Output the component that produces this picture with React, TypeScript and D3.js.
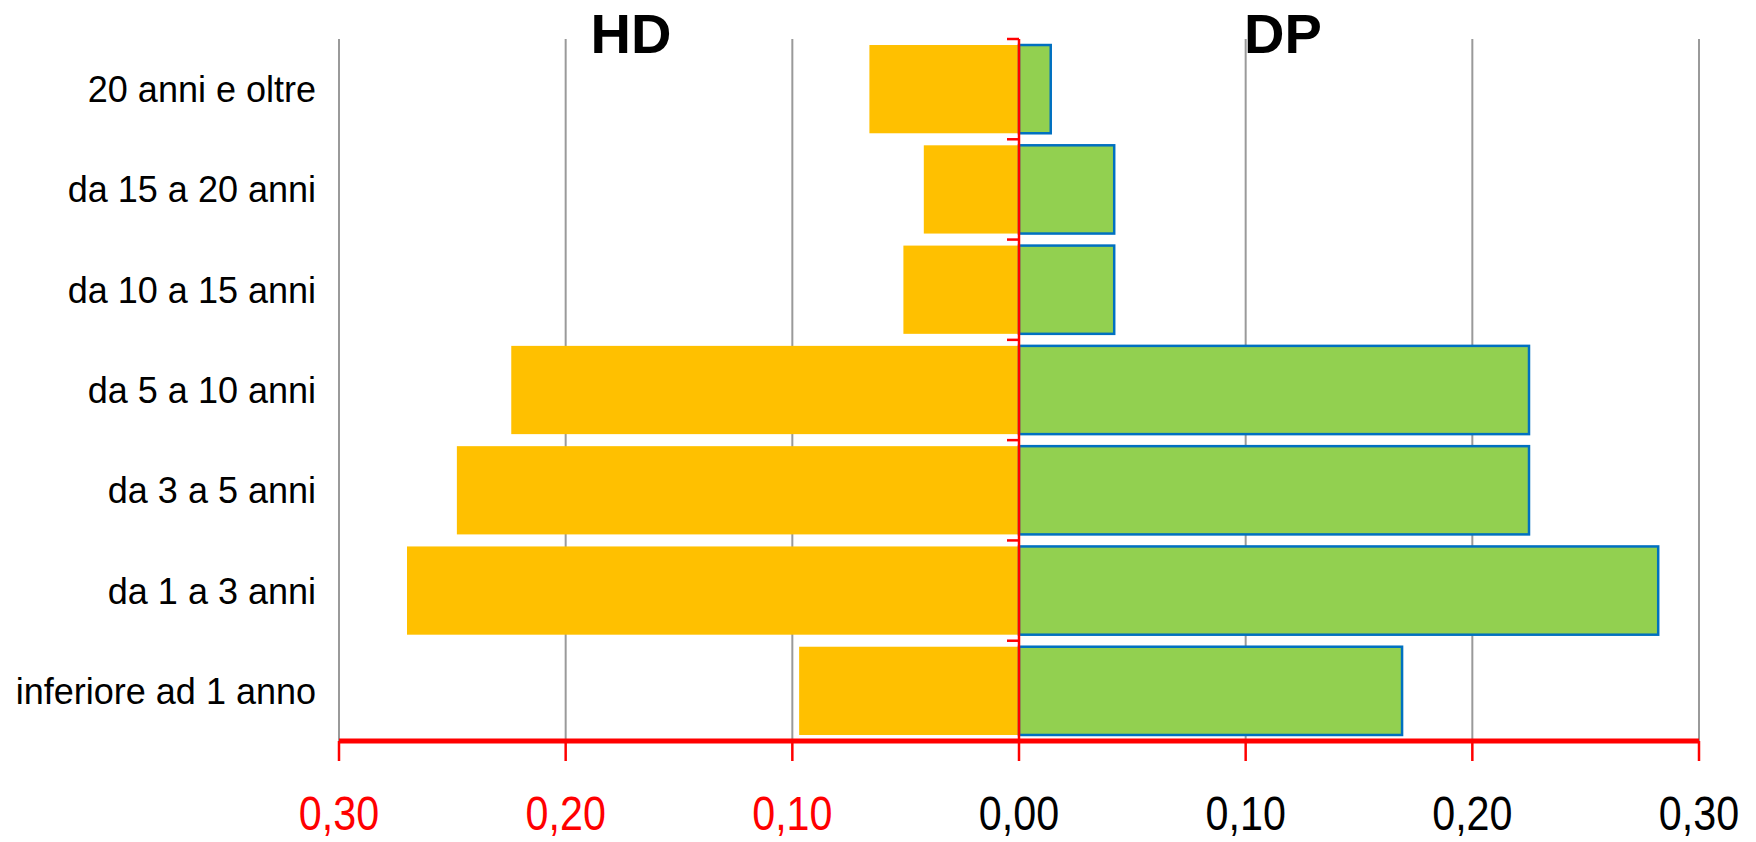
import React from "react";
import * as d3 from "d3";

const categories = [
  "20 anni e oltre",
  "da 15 a 20 anni",
  "da 10 a 15 anni",
  "da 5 a 10 anni",
  "da 3 a 5 anni",
  "da 1 a 3 anni",
  "inferiore ad 1 anno",
];
const hdValues = [0.066, 0.042, 0.051, 0.224, 0.248, 0.27, 0.097];
const dpValues = [0.014, 0.042, 0.042, 0.225, 0.225, 0.282, 0.169];
const tickValues = [-0.3, -0.2, -0.1, 0, 0.1, 0.2, 0.3];
const tickLabels = ["0,30", "0,20", "0,10", "0,00", "0,10", "0,20", "0,30"];
const seriesTitles = ["HD", "DP"];

const W = 1756;
const H = 842;
const left = 339;
const right = 1699;
const top = 39;
const bottom = 741;

export default function App() {
  const x = d3.scaleLinear().domain([-0.3, 0.3]).range([left, right]);
  const y = d3
    .scaleBand<string>()
    .domain(categories)
    .range([top, bottom])
    .paddingInner(0.12)
    .paddingOuter(0.06);
  const step = y.step();
  const boundaries = categories.map((_, i) => top + i * step);

  return (
    <svg
      width={W}
      height={H}
      style={{ position: "absolute", left: 0, top: 0, background: "#fff" }}
      fontFamily="'Liberation Sans', Arial, sans-serif"
    >
      {tickValues
        .filter((v) => v !== 0)
        .map((v, i) => (
          <line
            key={"g" + i}
            x1={x(v)}
            x2={x(v)}
            y1={top}
            y2={bottom}
            stroke="#9a9a9a"
            strokeWidth={2}
          />
        ))}
      {categories.map((c, i) => (
        <rect
          key={"hd" + i}
          x={x(-hdValues[i])}
          y={y(c)!}
          width={x(0) - x(-hdValues[i])}
          height={y.bandwidth()}
          fill="#FFC000"
        />
      ))}
      {categories.map((c, i) => (
        <rect
          key={"dp" + i}
          x={x(0)}
          y={y(c)!}
          width={x(dpValues[i]) - x(0)}
          height={y.bandwidth()}
          fill="#92D050"
          stroke="#0070C0"
          strokeWidth={2.5}
        />
      ))}
      <line x1={x(0)} x2={x(0)} y1={top} y2={bottom} stroke="#FF0000" strokeWidth={2.5} />
      {boundaries.map((b, i) => (
        <line
          key={"zt" + i}
          x1={x(0) - 12}
          x2={x(0)}
          y1={b}
          y2={b}
          stroke="#FF0000"
          strokeWidth={2.5}
        />
      ))}
      {categories.map((c, i) => (
        <text
          key={"cl" + i}
          x={316}
          y={y(c)! + y.bandwidth() / 2 + 13}
          textAnchor="end"
          fontSize={36}
          fill="#000"
        >
          {c}
        </text>
      ))}
      <line x1={left} x2={right} y1={bottom} y2={bottom} stroke="#FF0000" strokeWidth={5} />
      {tickValues.map((v, i) => (
        <line
          key={"t" + i}
          x1={x(v)}
          x2={x(v)}
          y1={bottom}
          y2={bottom + 20}
          stroke="#FF0000"
          strokeWidth={2.5}
        />
      ))}
      {tickValues.map((v, i) => (
        <text
          key={"tl" + i}
          transform={`translate(${x(v)},830) scale(0.86,1)`}
          textAnchor="middle"
          fontSize={48}
          fill={v < 0 ? "#FF0000" : "#000"}
        >
          {tickLabels[i]}
        </text>
      ))}
      <text x={631} y={53} textAnchor="middle" fontSize={56} fontWeight="bold" fill="#000">
        {seriesTitles[0]}
      </text>
      <text x={1283} y={53} textAnchor="middle" fontSize={56} fontWeight="bold" fill="#000">
        {seriesTitles[1]}
      </text>
    </svg>
  );
}
